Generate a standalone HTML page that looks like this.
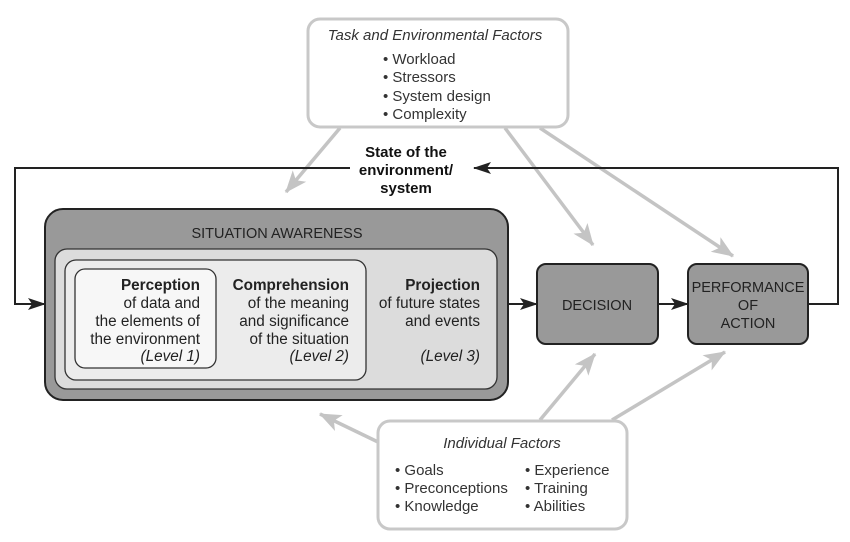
<!DOCTYPE html>
<html><head><meta charset="utf-8"><style>
html,body{margin:0;padding:0;background:#fff}
svg{display:block;font-family:"Liberation Sans",Arial,sans-serif}
</style></head><body>
<svg width="850" height="542" viewBox="0 0 850 542" xmlns="http://www.w3.org/2000/svg">
<defs>
<marker id="ab" viewBox="0 0 18 12" refX="17" refY="6" markerWidth="18" markerHeight="12" markerUnits="userSpaceOnUse" orient="auto"><path d="M0,0 L18,6 L0,12 L4,6 z" fill="#222"/></marker>
<marker id="ag" viewBox="0 0 20 16" refX="19" refY="8" markerWidth="22" markerHeight="18" markerUnits="userSpaceOnUse" orient="auto"><path d="M0,0 L20,8 L0,16 L5,8 z" fill="#c4c4c4"/></marker>
</defs>
<rect width="850" height="542" fill="#fff"/>
<g stroke="#c4c4c4" stroke-width="3.5" fill="none">
<line x1="340" y1="128" x2="286" y2="192" marker-end="url(#ag)"/>
<line x1="505" y1="128" x2="593" y2="245" marker-end="url(#ag)"/>
<line x1="540" y1="128" x2="733" y2="256" marker-end="url(#ag)"/>
<line x1="540" y1="420" x2="595" y2="354" marker-end="url(#ag)"/>
<line x1="612" y1="420" x2="725" y2="352" marker-end="url(#ag)"/>
<line x1="378" y1="442" x2="320" y2="414" marker-end="url(#ag)"/>
</g>
<g stroke="#222" stroke-width="2" fill="none">
<polyline points="808,304 838,304 838,168 474,168" marker-end="url(#ab)"/>
<polyline points="350,168 15,168 15,304 45,304" marker-end="url(#ab)"/>
<line x1="508" y1="304" x2="537" y2="304" marker-end="url(#ab)"/>
<line x1="658" y1="304" x2="688" y2="304" marker-end="url(#ab)"/>
</g>
<rect x="308" y="19" width="260" height="108" rx="12" fill="#fff" stroke="#c8c8c8" stroke-width="3"/>
<text x="435" y="40" text-anchor="middle" font-size="15" font-style="italic" fill="#333">Task and Environmental Factors</text>
<g font-size="15" fill="#333">
<text x="383" y="64">• Workload</text>
<text x="383" y="82">• Stressors</text>
<text x="383" y="101">• System design</text>
<text x="383" y="119">• Complexity</text>
</g>
<g font-size="15" font-weight="bold" fill="#111" text-anchor="middle">
<text x="406" y="157">State of the</text>
<text x="406" y="175">environment/</text>
<text x="406" y="193">system</text>
</g>
<rect x="45" y="209" width="463" height="191" rx="18" fill="#999" stroke="#222" stroke-width="2"/>
<text x="277" y="238" text-anchor="middle" font-size="14.5" fill="#222">SITUATION AWARENESS</text>
<rect x="55" y="249" width="442" height="140" rx="12" fill="#dcdcdc" stroke="#333" stroke-width="1.3"/>
<rect x="65" y="260" width="301" height="120" rx="11" fill="#ececec" stroke="#333" stroke-width="1.3"/>
<rect x="75" y="269" width="141" height="99" rx="10" fill="#f7f7f7" stroke="#333" stroke-width="1.3"/>
<g font-size="15.3" fill="#222" text-anchor="end">
<text x="200" y="290" font-weight="bold">Perception</text>
<text x="200" y="308">of data and</text>
<text x="200" y="326">the elements of</text>
<text x="200" y="344">the environment</text>
<text x="200" y="361" font-style="italic">(Level 1)</text>
<text x="349" y="290" font-weight="bold">Comprehension</text>
<text x="349" y="308">of the meaning</text>
<text x="349" y="326">and significance</text>
<text x="349" y="344">of the situation</text>
<text x="349" y="361" font-style="italic">(Level 2)</text>
<text x="480" y="290" font-weight="bold">Projection</text>
<text x="480" y="308">of future states</text>
<text x="480" y="326">and events</text>
<text x="480" y="361" font-style="italic">(Level 3)</text>
</g>
<rect x="537" y="264" width="121" height="80" rx="9" fill="#999" stroke="#222" stroke-width="2"/>
<text x="597" y="310" text-anchor="middle" font-size="14.5" fill="#222">DECISION</text>
<rect x="688" y="264" width="120" height="80" rx="9" fill="#999" stroke="#222" stroke-width="2"/>
<g font-size="14.5" fill="#222" text-anchor="middle">
<text x="748" y="292">PERFORMANCE</text>
<text x="748" y="310">OF</text>
<text x="748" y="328">ACTION</text>
</g>
<rect x="378" y="421" width="249" height="108" rx="12" fill="#fff" stroke="#c8c8c8" stroke-width="3"/>
<text x="502" y="448" text-anchor="middle" font-size="15" font-style="italic" fill="#333">Individual Factors</text>
<g font-size="15" fill="#333">
<text x="395" y="475">• Goals</text>
<text x="395" y="493">• Preconceptions</text>
<text x="395" y="511">• Knowledge</text>
<text x="525" y="475">• Experience</text>
<text x="525" y="493">• Training</text>
<text x="525" y="511">• Abilities</text>
</g>
</svg>
</body></html>
